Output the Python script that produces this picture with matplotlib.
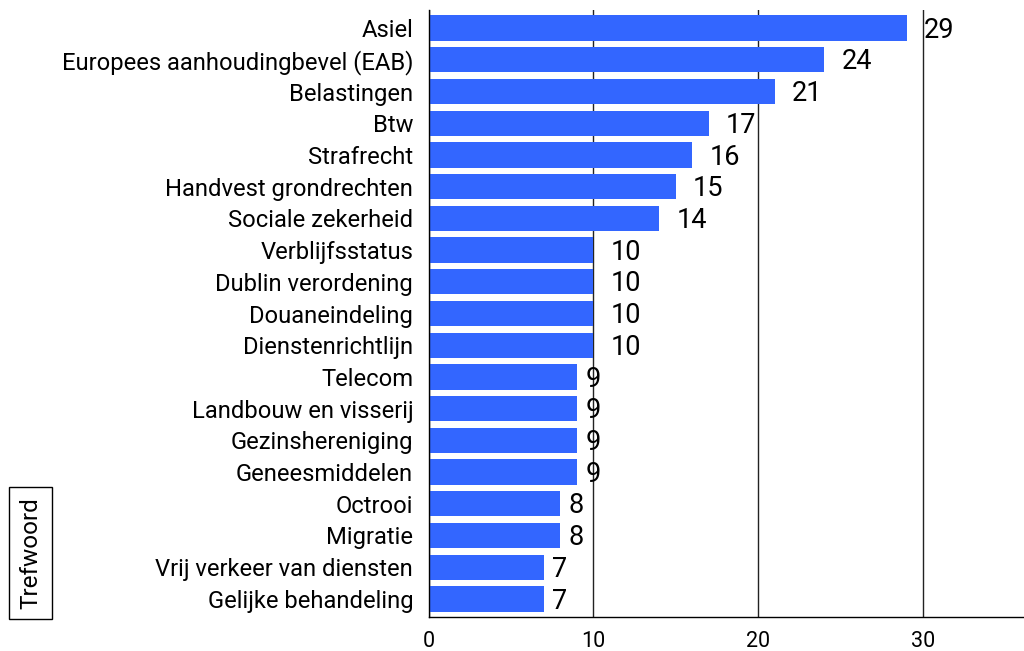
import matplotlib
matplotlib.use("Agg")
import matplotlib.pyplot as plt

categories = ["Asiel", "Europees aanhoudingbevel (EAB)", "Belastingen", "Btw", "Strafrecht",
              "Handvest grondrechten", "Sociale zekerheid", "Verblijfsstatus", "Dublin verordening",
              "Douaneindeling", "Dienstenrichtlijn", "Telecom", "Landbouw en visserij",
              "Gezinshereniging", "Geneesmiddelen", "Octrooi", "Migratie",
              "Vrij verkeer van diensten", "Gelijke behandeling"]
values = [29, 24, 21, 17, 16, 15, 14, 10, 10, 10, 10, 9, 9, 9, 9, 8, 8, 7, 7]
xticks = [0, 10, 20, 30]

plt.rcParams['font.family'] = ['Roboto', 'DejaVu Sans']

fig = plt.figure(figsize=(10.24, 6.51), dpi=100)
ax = fig.add_axes([428.5/1024, 1 - 617/651, 1 - 428.5/1024, (617 - 10)/651])

y = list(range(len(categories)))
ax.barh(y, values, height=0.8, color="#3366ff", zorder=2)
ax.set_ylim(len(categories) - 1 + 0.57, -0.57)
ax.set_xlim(0, 36.1)
ax.set_yticks(y)
ax.set_yticklabels(categories, fontsize=17.1)
ax.set_xticks(xticks)
ax.set_xticklabels([str(t) for t in xticks], fontsize=15.5)
ax.tick_params(axis='y', length=0, pad=11)
ax.tick_params(axis='x', length=0, pad=10)

for v, yi in zip(values, y):
    lab = str(v)
    ax.annotate(lab, (v, yi), xytext=(8.5 * len(lab) * 0.72, -1.5), textcoords='offset points',
                ha='left', va='center', fontsize=19.5, color='black')

ax.grid(axis='x', color='#222222', linewidth=1.0, zorder=0)
ax.set_axisbelow(True)
for s in ['top', 'right']:
    ax.spines[s].set_visible(False)
for s in ['left', 'bottom']:
    ax.spines[s].set_color('black')
    ax.spines[s].set_linewidth(1.0)

fig.text(30.5/1024, 1 - 609/651, "Trefwoord", rotation=90, fontsize=17.5,
         ha='center', va='bottom',
         bbox=dict(boxstyle='square,pad=0.42', facecolor='white', edgecolor='black', linewidth=1.0))

fig.savefig("out.png", dpi=100)
